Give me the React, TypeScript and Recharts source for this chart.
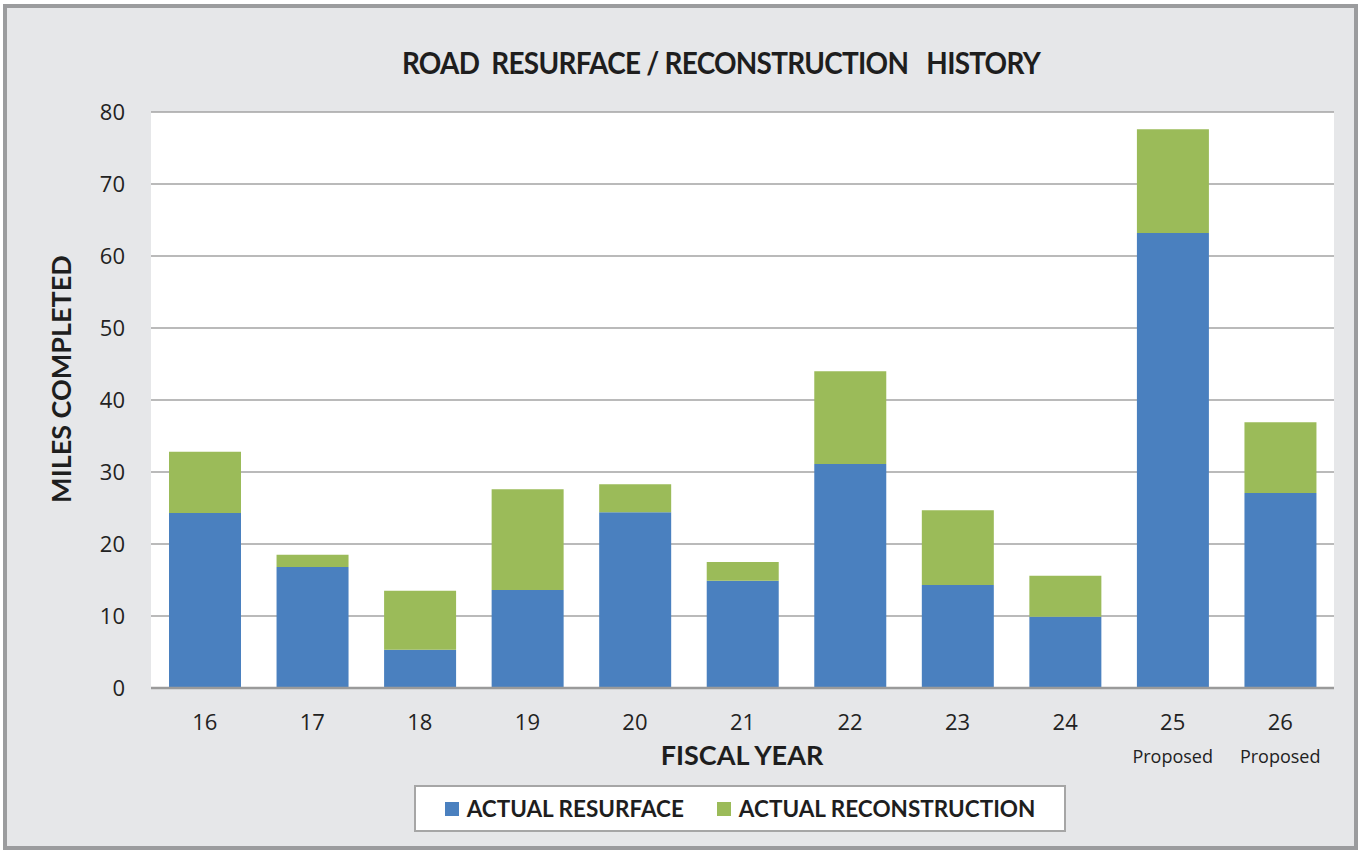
import React from 'react'
import { BarChart, Bar, XAxis, YAxis, CartesianGrid } from 'recharts'

const years = ['16', '17', '18', '19', '20', '21', '22', '23', '24', '25', '26']
const resurface = [24.3, 16.8, 5.3, 13.6, 24.4, 14.9, 31.1, 14.3, 9.9, 63.2, 27.1]
const reconstruction = [8.5, 1.7, 8.2, 14.0, 3.9, 2.6, 12.9, 10.4, 5.7, 14.4, 9.8]
const notes = ['', '', '', '', '', '', '', '', '', 'Proposed', 'Proposed']
const yTicks = [0, 10, 20, 30, 40, 50, 60, 70, 80]

const BLUE = '#4a80bf'
const GREEN = '#9bbb59'
const FONT = '"Open Sans", Lato, sans-serif'
const BOLD = 'Lato, "Open Sans", sans-serif'

const data = years.map((y, i) => ({ year: y, resurface: resurface[i], reconstruction: reconstruction[i], note: notes[i] }))

function YearTick({ x, y, payload, index }: any) {
  const note = notes[index] ?? ''
  return (
    <g>
      <text x={x} y={y + 34} textAnchor="middle" fontSize={22} fontFamily={FONT} fill="#222">{payload.value}</text>
      {note && <text x={x} y={y + 67} textAnchor="middle" fontSize={18} fontFamily={FONT} fill="#222">{note}</text>}
    </g>
  )
}

export default function App() {
  return (
    <div style={{ position: 'absolute', left: 0, top: 0, width: 1359, height: 851 }}>
      <div style={{ position: 'absolute', left: 3, top: 4, width: 1355, height: 846, boxSizing: 'border-box', border: '4px solid #9b9c9e', background: '#e6e7e9' }} />
      <div style={{ position: 'absolute', left: 721, top: 43, transform: 'translateX(-50%) scaleX(0.9)', whiteSpace: 'nowrap', fontFamily: BOLD, fontWeight: 700, fontSize: 31, color: '#1e1e1e', letterSpacing: -0.8 }}>
        ROAD&nbsp; RESURFACE / RECONSTRUCTION&nbsp;&nbsp; HISTORY
      </div>
      <div style={{ position: 'absolute', left: 0, top: 0 }}>
        <BarChart width={1359} height={851} data={data} margin={{ top: 112, right: 25, bottom: 133, left: 91 }} barSize={72}>
          <CartesianGrid vertical={false} stroke="#a3a3a3" strokeWidth={1.5} fill="#ffffff" fillOpacity={1} />
          <XAxis dataKey="year" height={30} tick={<YearTick />} tickLine={false} axisLine={{ stroke: '#9a9a9a', strokeWidth: 2.5 }} interval={0} />
          <YAxis width={60} domain={[0, 80]} ticks={yTicks} tickLine={false} axisLine={false} tickSize={0} tickMargin={26}
            tick={{ fontSize: 22, fontFamily: FONT, fill: '#222' }} />
          <Bar dataKey="resurface" stackId="a" fill={BLUE} isAnimationActive={false} />
          <Bar dataKey="reconstruction" stackId="a" fill={GREEN} isAnimationActive={false} />
        </BarChart>
      </div>
      <div style={{ position: 'absolute', left: 60, top: 379, transform: 'translate(-50%, -50%) rotate(-90deg)', whiteSpace: 'nowrap', fontFamily: BOLD, fontWeight: 700, fontSize: 27, color: '#1e1e1e' }}>
        MILES COMPLETED
      </div>
      <div style={{ position: 'absolute', left: 742, top: 754, transform: 'translate(-50%, -50%)', whiteSpace: 'nowrap', fontFamily: BOLD, fontWeight: 700, fontSize: 27, color: '#1e1e1e' }}>
        FISCAL YEAR
      </div>
      <div style={{ position: 'absolute', left: 414, top: 785, width: 652, height: 47, boxSizing: 'border-box', border: '2px solid #a6a6a6', background: '#fff', display: 'flex', alignItems: 'center', justifyContent: 'center', gap: 33, fontFamily: BOLD, fontWeight: 700, fontSize: 22.5, color: '#1e1e1e' }}>
        <span style={{ display: 'flex', alignItems: 'center' }}>
          <span style={{ width: 14, height: 14, background: BLUE, marginRight: 8 }} />ACTUAL RESURFACE
        </span>
        <span style={{ display: 'flex', alignItems: 'center' }}>
          <span style={{ width: 14, height: 14, background: GREEN, marginRight: 8 }} />ACTUAL RECONSTRUCTION
        </span>
      </div>
    </div>
  )
}
